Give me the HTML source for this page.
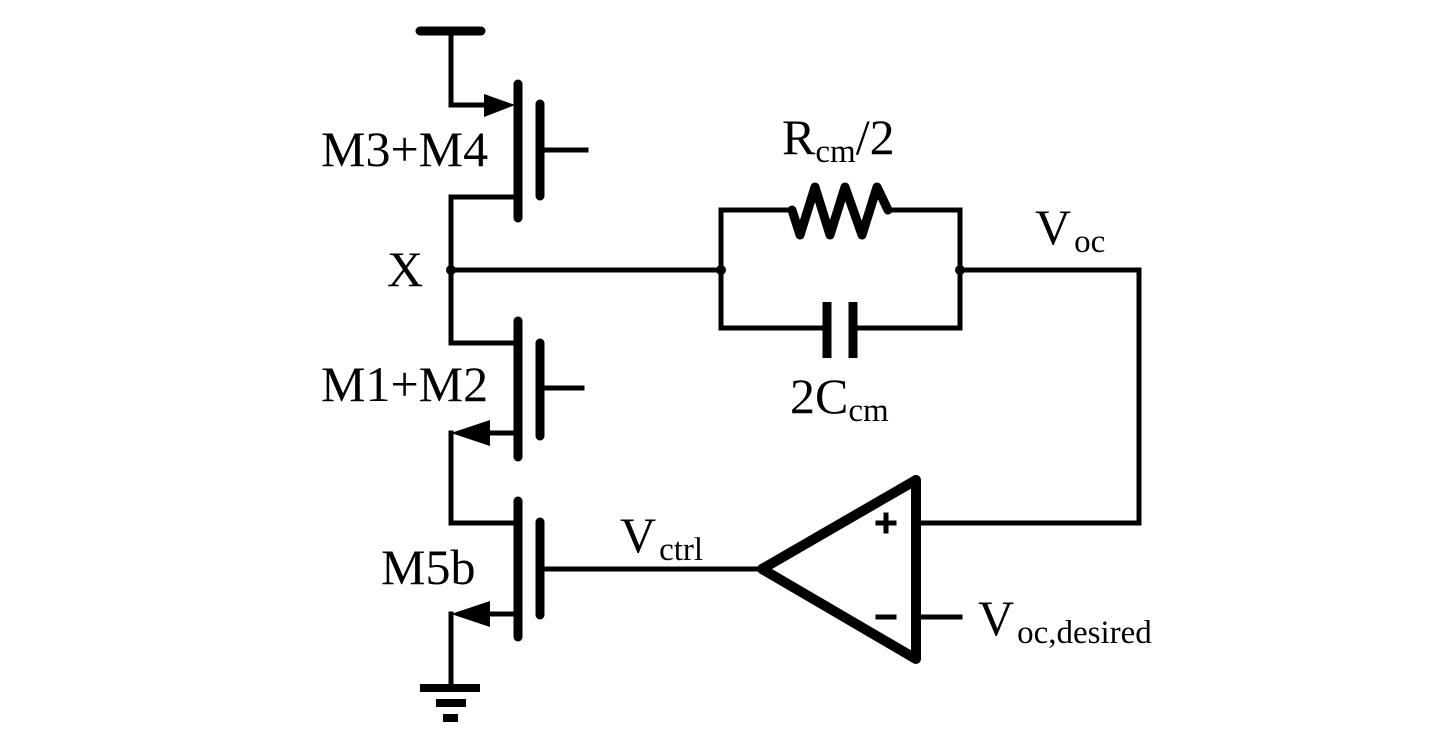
<!DOCTYPE html>
<html><head><meta charset="utf-8"><style>
html,body{margin:0;padding:0;background:#fff;}
svg{display:block;}
text{font-family:"Liberation Serif",serif;fill:#000;}
</style></head><body>
<svg width="1440" height="749" viewBox="0 0 1440 749" xmlns="http://www.w3.org/2000/svg">
<g fill="none" stroke="#000" stroke-width="5" stroke-linejoin="miter" stroke-linecap="square">
<line x1="420" y1="31" x2="481" y2="31" stroke-width="9" stroke-linecap="round"/>
<polyline points="451,31 451,105 490,105"/>
<line x1="518" y1="84" x2="518" y2="218" stroke-width="9" stroke-linecap="round"/>
<line x1="540" y1="104" x2="540" y2="196" stroke-width="9" stroke-linecap="round"/>
<line x1="540" y1="150" x2="586" y2="150"/>
<polyline points="518,197 451,197 451,343 518,343"/>
<line x1="518" y1="321" x2="518" y2="457" stroke-width="9" stroke-linecap="round"/>
<line x1="540" y1="343" x2="540" y2="436" stroke-width="9" stroke-linecap="round"/>
<line x1="540" y1="388" x2="582" y2="388"/>
<line x1="480" y1="433" x2="518" y2="433"/>
<polyline points="451,433 451,523 518,523"/>
<line x1="518" y1="501" x2="518" y2="637" stroke-width="9" stroke-linecap="round"/>
<line x1="540" y1="522" x2="540" y2="615" stroke-width="9" stroke-linecap="round"/>
<line x1="540" y1="569" x2="762" y2="569"/>
<line x1="480" y1="614" x2="518" y2="614"/>
<polyline points="451,614 451,688"/>
<line x1="451" y1="270" x2="721" y2="270"/>
<polyline points="792,210 721,210 721,328 826,328"/>
<polyline points="888,210 960,210 960,328 853,328"/>
<polyline points="792,210 800,235 815,187 830,235 845,187 862,235 877,187 888,210" stroke-width="9" stroke-linejoin="round" stroke-linecap="round"/>
<line x1="827" y1="302" x2="827" y2="358" stroke-width="9" stroke-linecap="butt"/>
<line x1="853" y1="302" x2="853" y2="358" stroke-width="9" stroke-linecap="butt"/>
<polyline points="960,270 1139,270 1139,523 916,523"/>
<line x1="916" y1="617" x2="960" y2="617"/>
<polygon points="762,569 916,480 916,659" stroke-width="10" stroke-linejoin="round"/>
<line x1="878" y1="523" x2="894" y2="523" stroke-width="5"/>
<line x1="886" y1="515" x2="886" y2="531" stroke-width="5"/>
<line x1="878" y1="617" x2="894" y2="617" stroke-width="5"/>
</g>
<polygon points="515,105 484,94 484,117" fill="#000"/>
<polygon points="451,433 490,420 490,446" fill="#000"/>
<polygon points="451,614 490,601 490,627" fill="#000"/>
<circle cx="451" cy="270" r="5" fill="#000"/>
<circle cx="721" cy="270" r="5" fill="#000"/>
<circle cx="960" cy="270" r="5" fill="#000"/>
<rect x="420" y="684" width="60" height="8" fill="#000"/>
<rect x="436" y="699" width="30" height="8" fill="#000"/>
<rect x="443" y="714" width="15" height="8" fill="#000"/>
<text x="321" y="166" font-size="50">M3+M4</text>
<text x="387" y="286" font-size="50">X</text>
<text x="321" y="401" font-size="50">M1+M2</text>
<text x="381" y="584" font-size="50">M5b</text>
<text x="782" y="154" font-size="50">R<tspan font-size="33" dy="8">cm</tspan><tspan dy="-8">/2</tspan></text>
<text x="1035" y="244" font-size="50">V<tspan font-size="33" dy="8" dx="3">oc</tspan></text>
<text x="790" y="413" font-size="50">2C<tspan font-size="33" dy="8">cm</tspan></text>
<text x="620" y="552" font-size="50">V<tspan font-size="33" dy="8" dx="3">ctrl</tspan></text>
<text x="978" y="635" font-size="50">V<tspan font-size="33" dy="8" dx="3">oc,desired</tspan></text>
</svg>
</body></html>
